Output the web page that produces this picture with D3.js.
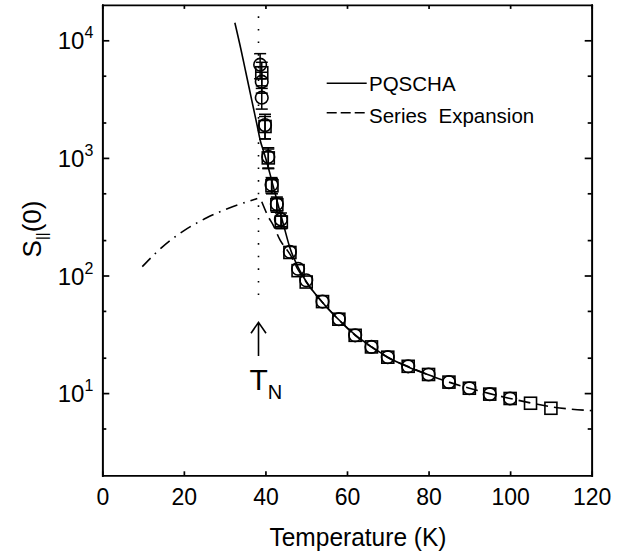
<!DOCTYPE html>
<html>
<head>
<meta charset="utf-8">
<script src="https://cdn.jsdelivr.net/npm/d3@7"></script>
<style>
  body { margin: 0; background: #fff; }
  text { font-family: "Liberation Sans", Arial, sans-serif; fill: #000; }
  .axis path, .axis line { stroke: #000; stroke-width: 1.7px; }
</style>
</head>
<body>
<svg id="chart" width="623" height="552"></svg>
<script>
// values
var circleT   = [38.7, 39.1, 39.1, 39.9, 40.7, 41.5, 42.8, 43.8, 46.0, 48.0, 50, 54, 58, 62, 66, 70, 75, 80, 85, 90, 95, 100];
var circleS   = [6200, 4450, 3250, 1900, 1020, 590, 405, 300, 159, 114, 91, 60, 42.5, 31, 24.7, 20.2, 16.9, 14.4, 12.4, 11.0, 9.8, 9.0];
var circleErr = [1500, 900, 650, 450, 200, 90, 60, 40, 0, 0, 0, 0, 0, 0, 0, 0, 0, 0, 0, 0, 0, 0];

var squareT   = [39.1, 39.9, 40.7, 41.6, 42.8, 43.9, 46.0, 48.0, 50, 54, 58, 62, 66, 70, 75, 80, 85, 90, 95, 100, 105, 110];
var squareS   = [5300, 1850, 1000, 580, 400, 285, 157, 110, 88, 60, 42.5, 31, 24.7, 20.2, 16.9, 14.4, 12.4, 11.0, 9.8, 9.0, 8.2, 7.43];
var squareErr = [1200, 400, 190, 85, 55, 35, 0, 0, 0, 0, 0, 0, 0, 0, 0, 0, 0, 0, 0, 0, 0, 0];

var pqschaT = [32.5, 34, 35, 36, 37, 38, 38.7, 39.5, 40.5, 41.5, 42.5, 43.5, 44.5, 46, 48, 50, 54, 58, 62, 66, 70, 75, 81];
var pqschaS = [14100, 8350, 5740, 3950, 2710, 1860, 1420, 1150, 880, 650, 480, 355, 265, 172, 118, 89, 59, 42, 31.3, 24.8, 20.2, 16.7, 13.9];

var seriesT = [39.1, 40.7, 41.9, 43.6, 45.3, 46, 48, 50, 54, 58, 62, 66, 70, 75, 80, 85, 90, 95, 100, 105, 110, 120];
var seriesS = [424, 316, 268, 200, 165, 152, 112, 88, 59, 42, 31, 24.6, 20.1, 16.8, 14.3, 12.4, 11.0, 9.9, 9.0, 8.25, 7.65, 7.1];

var orderedT = [9.8, 14.5, 19.9, 25.6, 31.3, 36, 38.0];
var orderedS = [119, 175, 243, 312, 380, 428, 452];

var xTicks = [0, 20, 40, 60, 80, 100, 120];
var yMajor = [10, 100, 1000, 10000];
var yMinor = [5, 20, 50, 200, 500, 2000, 5000];
var tN = 38.3;

var svg = d3.select("#chart");
var x = d3.scaleLinear().domain([0, 120]).range([102.3, 591.7]);
var y = d3.scaleLog().domain([2, 20000]).range([475.3, 4.9]);

// frame + ticks
svg.append("g").attr("class", "axis").attr("transform", "translate(0," + y(2) + ")")
  .call(d3.axisBottom(x).tickValues(xTicks).tickSizeInner(-4).tickSizeOuter(0).tickPadding(13))
  .selectAll("text").style("font-size", "23px").style("font-family", "Liberation Sans, Arial, sans-serif");
svg.append("g").attr("class", "axis").attr("transform", "translate(0," + y(20000) + ")")
  .call(d3.axisTop(x).tickValues(xTicks).tickSizeInner(-4).tickSizeOuter(0).tickFormat(""));
svg.append("g").attr("class", "axis").attr("transform", "translate(" + x(0) + ",0)")
  .call(d3.axisLeft(y).tickValues(yMajor).tickSizeInner(-7).tickSizeOuter(0).tickFormat(""));
svg.append("g").attr("class", "axis").attr("transform", "translate(" + x(0) + ",0)")
  .call(d3.axisLeft(y).tickValues(yMinor).tickSizeInner(-4).tickSizeOuter(0).tickFormat(""));
svg.append("g").attr("class", "axis").attr("transform", "translate(" + x(120) + ",0)")
  .call(d3.axisRight(y).tickValues(yMajor).tickSizeInner(-7).tickSizeOuter(0).tickFormat(""));
svg.append("g").attr("class", "axis").attr("transform", "translate(" + x(120) + ",0)")
  .call(d3.axisRight(y).tickValues(yMinor).tickSizeInner(-4).tickSizeOuter(0).tickFormat(""));
svg.selectAll(".axis .domain").attr("stroke-linecap", "square");

// y tick labels 10^n
var ylab = svg.append("g").selectAll("text").data(yMajor).enter().append("text")
  .attr("x", x(0) - 9).attr("y", function(d) { return y(d) + 9; })
  .attr("text-anchor", "end").style("font-size", "24px");
ylab.append("tspan").text("10");
ylab.append("tspan").attr("dy", -11).style("font-size", "16px").text(function(d) { return Math.round(Math.log10(d)); });

// axis titles
svg.append("text").attr("x", 358).attr("y", 546).attr("text-anchor", "middle")
  .attr("textLength", 177).attr("lengthAdjust", "spacingAndGlyphs")
  .style("font-size", "26px").text("Temperature  (K)");
var yt = svg.append("text").attr("transform", "translate(41,229) rotate(-90)").attr("text-anchor", "middle").style("font-size", "26px");
yt.append("tspan").text("S");
yt.append("tspan").attr("dy", 6).style("font-size", "15px").text("||");
yt.append("tspan").attr("dy", -6).text("(0)");

// curves
var line = d3.line().x(function(d) { return x(d[0]); }).y(function(d) { return y(d[1]); }).curve(d3.curveMonotoneX);
svg.append("path").datum(d3.zip(pqschaT, pqschaS)).attr("d", line)
  .attr("fill", "none").attr("stroke", "#000").attr("stroke-width", 1.6);
svg.append("path").datum(d3.zip(seriesT, seriesS)).attr("d", line)
  .attr("fill", "none").attr("stroke", "#000").attr("stroke-width", 1.6).attr("stroke-dasharray", "12,6");
svg.append("path").datum(d3.zip(orderedT, orderedS)).attr("d", line.curve(d3.curveBasis))
  .attr("fill", "none").attr("stroke", "#000").attr("stroke-width", 1.6).attr("stroke-dasharray", "12,6,1.6,6");

// T_N marker
svg.append("line").attr("x1", x(tN)).attr("x2", x(tN)).attr("y1", y(16000)).attr("y2", y(60))
  .attr("stroke", "#000").attr("stroke-width", 1.6).attr("stroke-dasharray", "1.6,11");
var ax = x(tN), tip = y(40), base = y(20.7);
svg.append("path").attr("d", "M" + ax + "," + base + "V" + tip + "M" + (ax - 7.5) + "," + (tip + 11) + "L" + ax + "," + tip + "L" + (ax + 7.5) + "," + (tip + 11))
  .attr("fill", "none").attr("stroke", "#000").attr("stroke-width", 1.6);
var tn = svg.append("text").attr("x", ax - 9).attr("y", base + 34).style("font-size", "30px");
tn.append("tspan").text("T");
tn.append("tspan").attr("dy", 9).style("font-size", "20px").text("N");

// error bars
function errBars(T, S, E) {
  var g = svg.append("g").attr("stroke", "#000").attr("stroke-width", 1.5);
  T.forEach(function(t, i) {
    if (!E[i]) return;
    var cx = x(t), y1 = y(S[i] + E[i]), y2 = y(S[i] - E[i]);
    g.append("line").attr("x1", cx).attr("x2", cx).attr("y1", y1).attr("y2", y2);
    g.append("line").attr("x1", cx - 6).attr("x2", cx + 6).attr("y1", y1).attr("y2", y1);
    g.append("line").attr("x1", cx - 6).attr("x2", cx + 6).attr("y1", y2).attr("y2", y2);
  });
}
errBars(squareT, squareS, squareErr);
errBars(circleT, circleS, circleErr);

// markers
svg.append("g").selectAll("rect").data(d3.zip(squareT, squareS)).enter().append("rect")
  .attr("x", function(d) { return x(d[0]) - 6; }).attr("y", function(d) { return y(d[1]) - 6; })
  .attr("width", 12).attr("height", 12).attr("fill", "none").attr("stroke", "#000").attr("stroke-width", 1.6);
svg.append("g").selectAll("circle").data(d3.zip(circleT, circleS)).enter().append("circle")
  .attr("cx", function(d) { return x(d[0]); }).attr("cy", function(d) { return y(d[1]); })
  .attr("r", 6.3).attr("fill", "none").attr("stroke", "#000").attr("stroke-width", 1.6);

// legend
var leg = [{label: "PQSCHA", dash: null, ly: 83.3, ty: 90.7}, {label: "Series  Expansion", dash: "10,4", ly: 112.7, ty: 123.3}];
leg.forEach(function(l) {
  svg.append("line").attr("x1", 326.7).attr("x2", 366.7).attr("y1", l.ly).attr("y2", l.ly)
    .attr("stroke", "#000").attr("stroke-width", 1.6).attr("stroke-dasharray", l.dash);
  svg.append("text").attr("x", 369).attr("y", l.ty).style("font-size", "20.5px").style("white-space", "pre").text(l.label);
});
</script>
</body>
</html>
